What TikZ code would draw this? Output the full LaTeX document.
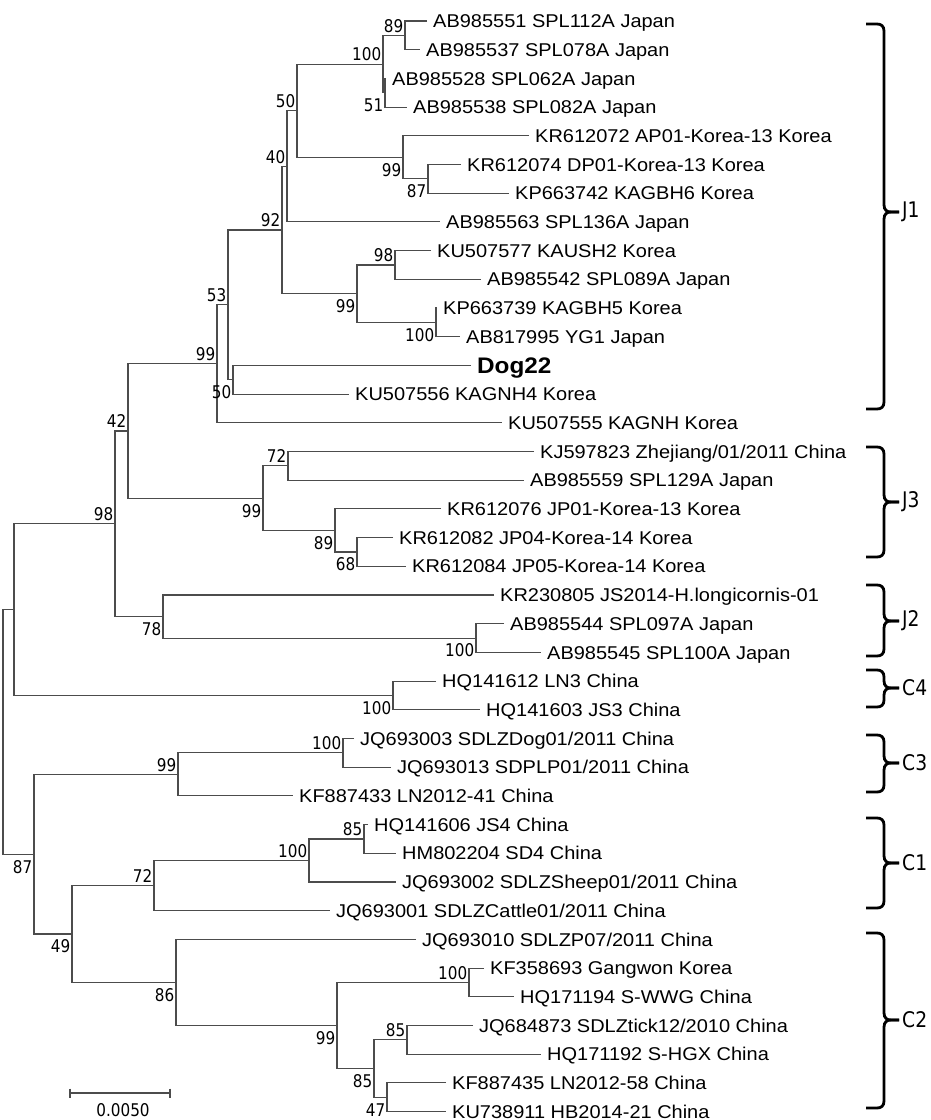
\documentclass[tikz,border=0pt]{standalone}
\usepackage{fontspec}
\setmainfont[FakeStretch=1.08]{Liberation Sans}
\newfontfamily\bsfont[FakeStretch=0.87]{DejaVu Sans}
\usepackage{tikz}

\tikzset{
    branch/.style={draw=black!70, line width=1.1pt},
    leaf/.style={anchor=west, inner xsep=6pt, inner ysep=0pt, text height=13.2pt, text depth=0pt, font=\fontsize{18.5}{20}\selectfont},
    bs/.style={font=\bsfont\fontsize{17.5}{20}\selectfont, inner xsep=1.5pt, inner ysep=0pt, text height=12.7pt, text depth=0pt},
    bsup/.style={bs, anchor=south east, yshift=3pt},
    bsdown/.style={bs, anchor=north east, yshift=-6pt},
    cladebrace/.style={draw=black, line width=2.8pt},
    cladelabel/.style={anchor=west, inner sep=0pt, font=\bsfont\fontsize{21.5}{24}\selectfont}
}

\begin{document}
\begin{tikzpicture}[x=1pt, y=-1pt]
    \useasboundingbox (0,0) rectangle (930,1120);
    % leaves
    \foreach \i/\x/\name in {0/427/{AB985551 SPL112A Japan}, 1/420/{AB985537 SPL078A Japan},
        2/386/{AB985528 SPL062A Japan}, 3/407/{AB985538 SPL082A Japan},
        4/529/{KR612072 AP01-Korea-13 Korea}, 5/461/{KR612074 DP01-Korea-13 Korea},
        6/509/{KP663742 KAGBH6 Korea}, 7/440/{AB985563 SPL136A Japan},
        8/431/{KU507577 KAUSH2 Korea}, 9/481/{AB985542 SPL089A Japan},
        10/437/{KP663739 KAGBH5 Korea}, 11/460/{AB817995 YG1 Japan},
        13/349/{KU507556 KAGNH4 Korea}, 14/502/{KU507555 KAGNH Korea},
        15/534/{KJ597823 Zhejiang/01/2011 China}, 16/524/{AB985559 SPL129A Japan},
        17/441/{KR612076 JP01-Korea-13 Korea}, 18/393/{KR612082 JP04-Korea-14 Korea},
        19/406/{KR612084 JP05-Korea-14 Korea}, 20/494/{KR230805 JS2014-H.longicornis-01},
        21/504/{AB985544 SPL097A Japan}, 22/541/{AB985545 SPL100A Japan},
        23/436/{HQ141612 LN3 China}, 24/480/{HQ141603 JS3 China},
        25/354/{JQ693003 SDLZDog01/2011 China}, 26/391/{JQ693013 SDPLP01/2011 China},
        27/293/{KF887433 LN2012-41 China}, 28/368/{HQ141606 JS4 China},
        29/396/{HM802204 SD4 China}, 30/396/{JQ693002 SDLZSheep01/2011 China},
        31/330/{JQ693001 SDLZCattle01/2011 China}, 32/416/{JQ693010 SDLZP07/2011 China},
        33/484/{KF358693 Gangwon Korea}, 34/514/{HQ171194 S-WWG China},
        35/473/{JQ684873 SDLZtick12/2010 China}, 36/541/{HQ171192 S-HGX China},
        37/446/{KF887435 LN2012-58 China}, 38/446/{KU738911 HB2014-21 China}}
        \node[leaf] (l\i) at (\x, {21+28.7*\i}) {\name};
    \node[leaf, text height=16.1pt, font=\bfseries\fontsize{22.5}{24}\selectfont] (l12) at (471, 365.4) {Dog22}; % query

    % internal nodes
    \coordinate (n89) at (405, 35.35);
    \coordinate (n51) at (385, 92.75);
    \coordinate (n100a) at (383, 64.05);
    \coordinate (n87a) at (428, 178.85);
    \coordinate (n99a) at (403, 157.3);
    \coordinate (n50a) at (297, 110.7);
    \coordinate (n40) at (287, 166.3);
    \coordinate (n98a) at (395, 264.95);
    \coordinate (n100b) at (436, 322.35);
    \coordinate (n99b) at (357, 293.65);
    \coordinate (n92) at (282, 229.98);
    \coordinate (n50b) at (233, 379.75);
    \coordinate (n53) at (228, 304.86);
    \coordinate (n99c) at (217, 363.83);
    \coordinate (n72a) at (288, 465.85);
    \coordinate (n68) at (357, 551.95);
    \coordinate (n89b) at (335, 530.43);
    \coordinate (n99d) at (263, 498.14);
    \coordinate (n42) at (128, 430.98);
    \coordinate (n100c) at (476, 638.05);
    \coordinate (n78) at (163, 616.53);
    \coordinate (n98b) at (115, 523.75);
    \coordinate (n100d) at (393, 695.45);
    \coordinate (nU) at (14, 609.6);
    \coordinate (n100e) at (343, 752.85);
    \coordinate (n99e) at (178, 774.38);
    \coordinate (n85a) at (364, 838.95);
    \coordinate (n100f) at (309, 860.48);
    \coordinate (n72b) at (154, 885.59);
    \coordinate (n100g) at (469, 982.45);
    \coordinate (n85c) at (407, 1039.85);
    \coordinate (n47) at (387, 1097.25);
    \coordinate (n85b) at (374, 1068.55);
    \coordinate (n99f) at (337, 1025.5);
    \coordinate (n86) at (176, 982.45);
    \coordinate (n49) at (72, 934.02);
    \coordinate (n87b) at (34, 854.2);
    \coordinate (root) at (3, 731.9);

    % branches
    \foreach \p/\a/\b in {n89/l0/l1, n51/l2/l3, n100a/n89/n51, n87a/l5/l6, n99a/l4/n87a,
        n50a/n100a/n99a, n40/n50a/l7, n98a/l8/l9, n100b/l10/l11, n99b/n98a/n100b,
        n92/n40/n99b, n50b/l12/l13, n53/n92/n50b, n99c/n53/l14, n72a/l15/l16,
        n68/l18/l19, n89b/l17/n68, n99d/n72a/n89b, n42/n99c/n99d, n100c/l21/l22,
        n78/l20/n100c, n98b/n42/n78, n100d/l23/l24, nU/n98b/n100d, n100e/l25/l26,
        n99e/n100e/l27, n85a/l28/l29, n100f/n85a/l30, n72b/n100f/l31, n100g/l33/l34,
        n85c/l35/l36, n47/l37/l38, n85b/n85c/n47, n99f/n100g/n85b, n86/l32/n99f,
        n49/n72b/n86, n87b/n99e/n49, root/nU/n87b}
        \draw[branch] (\a) -| (\p) |- (\b);

    % bootstrap values
    \foreach \n/\v in {n89/89, n100a/100, n50a/50, n40/40, n92/92, n98a/98, n53/53, n99c/99,
        n72a/72, n42/42, n98b/98, n100e/100, n99e/99, n85a/85, n100f/100, n72b/72,
        n100g/100, n85c/85}
        \node[bsup] at (\n) {\v};
    \foreach \n/\v in {n51/51, n99a/99, n87a/87, n99b/99, n100b/100, n50b/50, n68/68,
        n89b/89, n99d/99, n100c/100, n78/78, n100d/100, n47/47, n85b/85, n99f/99,
        n86/86, n49/49, n87b/87}
        \node[bsdown] at (\n) {\v};

    % scale bar
    \coordinate (sbl) at (70, 1093);
    \coordinate (sbr) at (170, 1093);
    \draw[branch] (sbl) -- (sbr);
    \draw[branch] ([yshift=4.5pt]sbl) -- ([yshift=-4.5pt]sbl);
    \draw[branch] ([yshift=4.5pt]sbr) -- ([yshift=-4.5pt]sbr);
    \node[bs, inner sep=0pt] (sblab) at (123, 1110) {0.0050};

    % genotype braces
    \foreach \t/\b/\m/\lab in {24/409/212/J1, 447/557/502/J3, 585/656/621/J2, 670/707/688/C4,
        735/792/763/C3, 818/908/863/C1, 933/1108/1020/C2} {
        \draw[cladebrace] (866,\t) -- (877,\t) .. controls (881,\t) and (884,\t+2) .. (884,\t+7)
            -- (884,\m-7) .. controls (884,\m-2) and (887,\m) .. (891,\m) -- (899,\m);
        \draw[cladebrace] (866,\b) -- (877,\b) .. controls (881,\b) and (884,\b-2) .. (884,\b-7)
            -- (884,\m+7) .. controls (884,\m+2) and (887,\m) .. (891,\m) -- (899,\m);
        \node[cladelabel] (g\lab) at (902,\m) {\lab};
    }
\end{tikzpicture}
\end{document}
